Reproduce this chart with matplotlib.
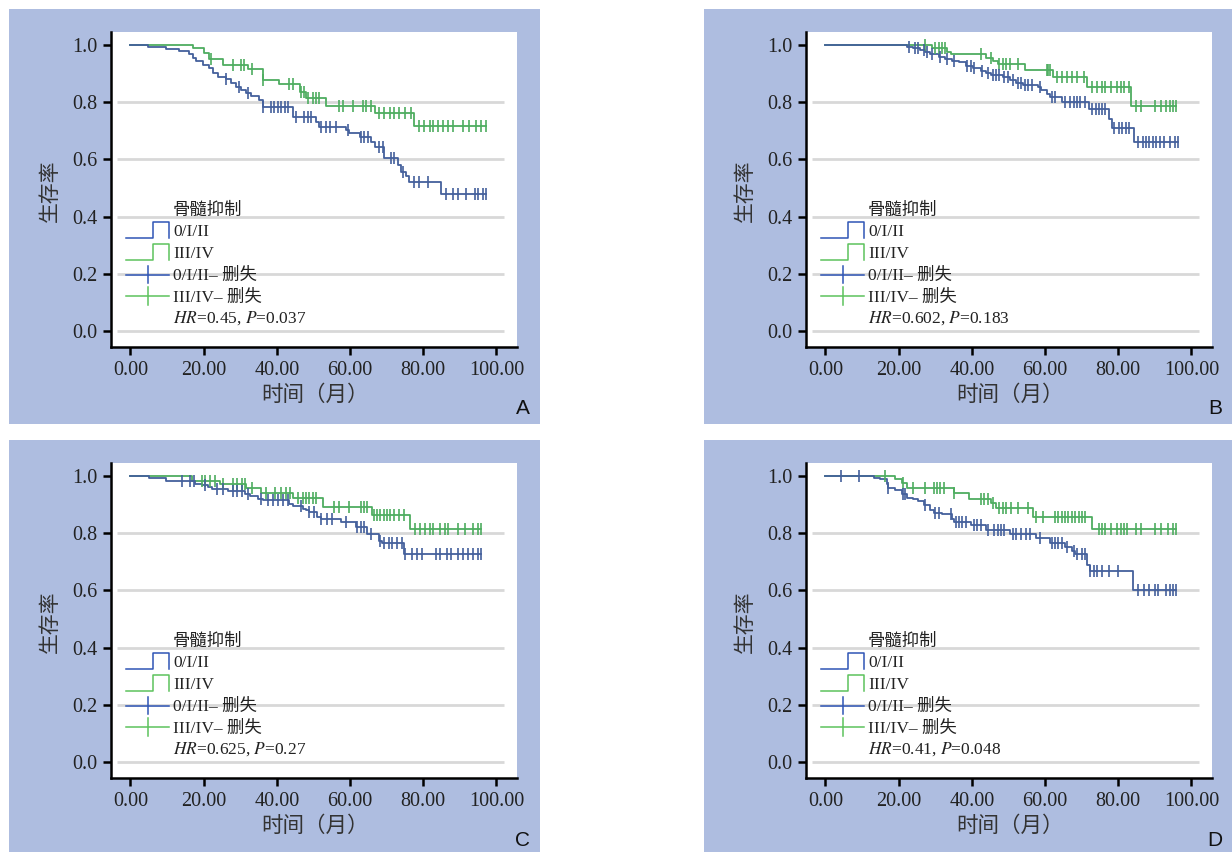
import numpy as np
import matplotlib
matplotlib.use('Agg')
import matplotlib.pyplot as plt
from matplotlib.patches import Rectangle

plt.rcParams['mathtext.fontset'] = 'stix'

# ---------------- data ----------------
# each curve: event times, survival after each event, censor times
# A
a_blue_t = [0, 4.7, 9.7, 13.4, 16.1, 17.0, 17.9, 19.8, 21.6, 22.5, 23.9, 26.1, 27.5, 28.9, 30.2,
            31.6, 33.0, 35.2, 36.2, 44.4, 50.7, 51.6, 58.9, 59.8, 62.6, 65.8, 66.7, 69.4, 73.0,
            74.0, 75.3, 76.2, 84.9]
a_blue_s = [1.0, 0.992, 0.985, 0.977, 0.969, 0.953, 0.942, 0.930, 0.918, 0.901, 0.889, 0.880,
            0.866, 0.854, 0.843, 0.831, 0.822, 0.808, 0.782, 0.747, 0.732, 0.714, 0.703, 0.693,
            0.679, 0.662, 0.642, 0.604, 0.580, 0.557, 0.540, 0.522, 0.479]
a_blue_c = [26.1, 29.8, 32.1, 36.2, 38.4, 39.3, 40.3, 41.2, 42.1, 43.0, 45.3, 47.5, 48.5, 49.4,
            52.1, 53.5, 54.4, 56.2, 59.4, 63.0, 63.9, 64.8, 68.0, 68.9, 71.2, 72.1, 74.4, 77.6,
            78.9, 81.2, 86.3, 88.1, 89.4, 91.7, 94.0, 94.9, 96.3, 97.2]
a_green_t = [0, 17.0, 20.2, 21.6, 25.2, 32.0, 36.2, 40.7, 46.2, 48.0, 53.5, 66.7, 77.6]
a_green_s = [1.0, 0.988, 0.971, 0.950, 0.930, 0.915, 0.878, 0.864, 0.837, 0.813, 0.788, 0.763, 0.717]
a_green_c = [22.0, 27.9, 30.2, 31.1, 33.2, 36.2, 43.4, 44.4, 46.6, 47.5, 48.4, 49.8, 50.7, 51.6,
             57.1, 58.0, 60.7, 63.5, 64.4, 65.8, 68.0, 69.4, 70.8, 72.1, 73.5, 74.9, 76.7, 78.9,
             80.3, 81.7, 82.6, 84.0, 85.3, 86.7, 88.1, 90.8, 92.6, 94.4, 95.8, 97.2]

# B
b_blue_t = [0, 22.2, 24.0, 25.9, 27.3, 28.6, 31.0, 32.8, 34.6, 36.5, 38.3, 40.2, 42.5, 43.8,
            45.2, 48.4, 50.3, 52.1, 54.0, 58.1, 59.0, 60.4, 61.3, 64.5, 71.9, 77.4, 78.4, 84.4]
b_blue_s = [1.0, 0.994, 0.988, 0.982, 0.976, 0.967, 0.959, 0.949, 0.943, 0.939, 0.927, 0.918,
            0.909, 0.900, 0.894, 0.886, 0.876, 0.868, 0.861, 0.853, 0.841, 0.829, 0.817, 0.802,
            0.776, 0.741, 0.711, 0.662]
b_blue_c = [22.7, 24.5, 25.4, 26.8, 27.7, 29.1, 31.4, 33.2, 35.1, 38.8, 39.7, 40.6, 42.9, 44.3,
            45.7, 46.6, 47.5, 48.9, 49.8, 51.2, 52.6, 53.5, 54.4, 55.3, 56.3, 58.6, 61.8, 62.7,
            65.5, 66.9, 67.8, 68.7, 69.6, 71.0, 72.8, 73.8, 74.7, 75.6, 76.5, 78.8, 80.2, 81.1,
            82.0, 83.0, 85.3, 86.7, 87.6, 88.5, 89.4, 90.3, 91.3, 92.6, 94.0, 95.4, 96.3]
b_green_t = [0, 29.1, 33.2, 34.2, 43.8, 45.7, 47.1, 54.4, 62.3, 71.5, 83.4]
b_green_s = [1.0, 0.988, 0.975, 0.967, 0.953, 0.945, 0.932, 0.912, 0.888, 0.853, 0.786]
b_green_c = [27.3, 30.0, 31.0, 31.9, 32.8, 42.5, 45.2, 47.5, 48.4, 49.4, 50.3, 52.6, 60.4, 60.9,
             61.3, 63.2, 64.6, 66.0, 67.3, 68.7, 70.5, 72.8, 74.2, 75.6, 76.5, 77.9, 79.7, 80.7,
             81.6, 83.0, 84.8, 86.2, 89.9, 91.8, 93.1, 94.0, 95.0, 95.9]

# C
c_blue_t = [0, 5.1, 9.6, 17.7, 19.5, 21.3, 22.2, 26.7, 31.3, 32.6, 34.9, 36.2, 43.4, 44.3, 47.1,
            48.0, 48.9, 51.1, 52.0, 57.5, 61.5, 64.7, 67.8, 68.7, 74.6]
c_blue_s = [1.0, 0.991, 0.982, 0.973, 0.967, 0.961, 0.953, 0.947, 0.938, 0.929, 0.920, 0.915,
            0.903, 0.894, 0.885, 0.880, 0.874, 0.858, 0.850, 0.839, 0.821, 0.798, 0.774, 0.765,
            0.727]
c_blue_c = [14.1, 16.3, 17.3, 20.4, 23.6, 25.4, 28.1, 29.0, 30.4, 32.2, 35.8, 37.6, 38.9, 40.3,
            41.6, 43.0, 46.6, 48.9, 50.2, 52.0, 53.8, 55.2, 58.8, 62.0, 62.9, 63.8, 65.6, 68.3,
            69.2, 70.5, 71.4, 72.8, 74.2, 75.1, 76.9, 78.2, 79.6, 83.6, 84.5, 86.4, 87.7, 89.5,
            90.9, 92.2, 93.6, 95.0, 95.8]
c_green_t = [0, 16.8, 24.5, 31.7, 35.8, 44.4, 52.5, 66.0, 76.4]
c_green_s = [1.0, 0.982, 0.973, 0.956, 0.940, 0.924, 0.891, 0.862, 0.814]
c_green_c = [19.5, 20.4, 21.8, 23.1, 25.4, 28.1, 29.0, 30.4, 31.3, 33.1, 37.1, 39.4, 41.2, 42.5,
             43.5, 45.7, 47.1, 48.0, 48.9, 49.8, 50.7, 55.6, 57.0, 59.7, 62.9, 63.8, 64.7, 66.5,
             67.4, 68.3, 69.2, 70.1, 71.0, 71.9, 73.3, 74.6, 77.8, 79.1, 80.5, 81.8, 82.7, 84.6,
             85.9, 86.8, 89.5, 91.3, 93.6, 94.9, 95.8]

# D
d_blue_t = [0, 13.4, 14.8, 16.7, 17.1, 19.0, 20.8, 22.2, 24.0, 25.4, 26.8, 28.6, 29.6, 31.9,
            34.6, 35.1, 39.7, 43.8, 50.3, 57.6, 61.3, 65.5, 67.3, 68.2, 71.5, 72.4, 83.9]
d_blue_s = [1.0, 0.994, 0.988, 0.970, 0.958, 0.952, 0.935, 0.923, 0.919, 0.911, 0.899, 0.881,
            0.871, 0.867, 0.851, 0.839, 0.827, 0.812, 0.798, 0.782, 0.764, 0.750, 0.738, 0.726,
            0.690, 0.667, 0.601]
d_blue_c = [4.2, 9.3, 17.1, 21.3, 21.7, 27.3, 30.0, 31.0, 34.2, 35.6, 36.5, 37.4, 38.3, 40.6,
            41.5, 42.5, 44.3, 46.1, 47.1, 48.0, 48.9, 51.2, 52.1, 53.5, 54.9, 55.8, 58.6, 61.8,
            62.7, 63.6, 64.6, 66.0, 67.8, 68.7, 70.1, 71.0, 72.4, 73.3, 74.2, 75.6, 77.4, 79.8,
            85.3, 87.1, 88.5, 89.9, 90.8, 93.1, 94.0, 94.9, 95.8]
d_green_t = [0, 19.0, 20.8, 22.2, 35.1, 39.2, 45.2, 46.6, 56.7, 72.8]
d_green_s = [1.0, 0.988, 0.976, 0.958, 0.940, 0.919, 0.905, 0.887, 0.857, 0.813]
d_green_c = [16.2, 21.3, 24.0, 27.3, 29.6, 30.5, 31.4, 32.3, 35.1, 42.5, 43.4, 44.3, 45.7, 47.5,
             48.4, 49.4, 50.7, 52.6, 55.3, 57.6, 59.5, 62.7, 63.6, 64.5, 65.5, 66.4, 67.3, 68.2,
             69.2, 70.1, 71.0, 74.7, 75.6, 76.5, 77.9, 79.7, 80.7, 81.6, 82.5, 84.8, 86.2, 89.9,
             91.8, 93.6, 95.0, 95.9]

panel_letters = ['A', 'B', 'C', 'D']
hr_texts = ['0.45', '0.602', '0.625', '0.41']
p_texts = ['0.037', '0.183', '0.27', '0.048']
group_names = ['0/I/II', 'III/IV']
legend_title = '骨髓抑制'
x_ticks = [0, 20, 40, 60, 80, 100]
y_ticks = [0.0, 0.2, 0.4, 0.6, 0.8, 1.0]
grid_levels = [0.0, 0.2, 0.4, 0.6, 0.8]

curves = [
    (a_blue_t, a_blue_s, a_blue_c, a_green_t, a_green_s, a_green_c),
    (b_blue_t, b_blue_s, b_blue_c, b_green_t, b_green_s, b_green_c),
    (c_blue_t, c_blue_s, c_blue_c, c_green_t, c_green_s, c_green_c),
    (d_blue_t, d_blue_s, d_blue_c, d_green_t, d_green_s, d_green_c),
]

# ---------------- style ----------------
W, H = 1232, 852
bg = '#AEBDE0'
blue_curve = '#44609C'
green_curve = '#4EAD60'
blue_leg = '#2F55B5'
green_leg = '#5DC25D'
serif = ['Liberation Serif', 'Noto Sans CJK SC']
cjk = ['Noto Sans CJK SC', 'DejaVu Sans']

# panel boxes (left, top, width, height) in pixels
boxes = [(9, 9, 531, 415), (704, 9, 528, 415), (9, 440, 531, 412), (704, 440, 528, 412)]

fig = plt.figure(figsize=(W / 100, H / 100), dpi=100)


def px_rect(l, t, w, h):
    return [l / W, 1 - (t + h) / H, w / W, h / H]


def draw_km(ax, t, s, c, color):
    t = list(t)
    s = list(s)
    end = max(c)
    ax.step(t + [end], s + [s[-1]], where='post', color=color, lw=1.3, zorder=3)
    idx = np.searchsorted(np.array(t), np.array(c), side='right') - 1
    cy = np.array(s)[idx]
    ax.plot(c, cy, ls='none', marker='|', ms=9, mew=1.2, color=color, zorder=4)


for i, (bl, bt, bw, bh) in enumerate(boxes):
    fig.patches.append(Rectangle((bl / W, 1 - (bt + bh) / H), bw / W, bh / H,
                                 transform=fig.transFigure, facecolor=bg, edgecolor='none', zorder=-5))
    ax = fig.add_axes(px_rect(bl + 102, bt + 23, 406, 315))
    ax.set_facecolor('white')
    ax.set_xlim(-5.3, 105.6)
    ax.set_ylim(-0.056, 1.045)
    for sp in ['top', 'right']:
        ax.spines[sp].set_visible(False)
    for sp in ['left', 'bottom']:
        ax.spines[sp].set_linewidth(1.8)
    ax.tick_params(direction='out', length=6, width=1.8, labelsize=14.5, pad=4, labelcolor='#222222')
    ax.set_xticks(x_ticks)
    ax.set_xticklabels(['%.2f' % v for v in x_ticks], family=serif)
    ax.set_yticks(y_ticks)
    ax.set_yticklabels(['%.1f' % v for v in y_ticks], family=serif)

    ax.hlines(grid_levels, -3.6, 102, colors='#D8D8D8', lw=2, zorder=1)

    bt_, bs_, bc_, gt_, gs_, gc_ = curves[i]
    draw_km(ax, gt_, gs_, gc_, green_curve)
    draw_km(ax, bt_, bs_, bc_, blue_curve)

    # legend (drawn by hand, no frame)
    ax.text(11.4, 0.423, legend_title, family=cjk, fontsize=12.5, va='center', ha='left', color='#222222')
    for k, (name, col) in enumerate(zip(group_names, [blue_leg, green_leg])):
        ty = 0.346 - k * 0.077
        lo, hi = ty - 0.021, ty + 0.035
        ax.plot([-1.2, 6.1, 6.1, 10.5, 10.5], [lo, lo, hi, hi, lo], color=col, lw=1.1, zorder=5)
        ax.text(11.7, ty, name, family=serif, fontsize=12.5, va='center', ha='left', color='#222222')
    for k, (name, col) in enumerate(zip(group_names, [blue_leg, green_leg])):
        ty = 0.192 - k * 0.075
        ax.plot([-1.2, 10.5], [ty + 0.005, ty + 0.005], color=col, lw=1.1, zorder=5)
        ax.plot([4.7, 4.7], [ty - 0.025, ty + 0.035], color=col, lw=1.1, zorder=5)
        ax.text(11.7, ty, name + '– 删失', family=serif, fontsize=12.5, va='center', ha='left',
                color='#222222')
    ax.text(11.7, 0.045, '$\\mathit{HR}$=%s, $\\mathit{P}$=%s' % (hr_texts[i], p_texts[i]),
            family=serif, fontsize=12.5, va='center', ha='left', color='#222222')

    # axis titles and panel letter
    fig.text((bl + 41) / W, 1 - (bt + 182) / H, '生存率', family=cjk, fontsize=15,
             rotation=90, ha='center', va='center', color='#333333')
    fig.text((bl + 306) / W, 1 - (bt + 386) / H, '时间（月）', family=cjk, fontsize=15.5,
             ha='center', va='center', color='#333333')
    fig.text((bl + bw - 10) / W, 1 - (bt + 400) / H, panel_letters[i], family=['Liberation Sans'],
             fontsize=15, ha='right', va='center', color='#111111')

fig.savefig('out.png', dpi=100)
